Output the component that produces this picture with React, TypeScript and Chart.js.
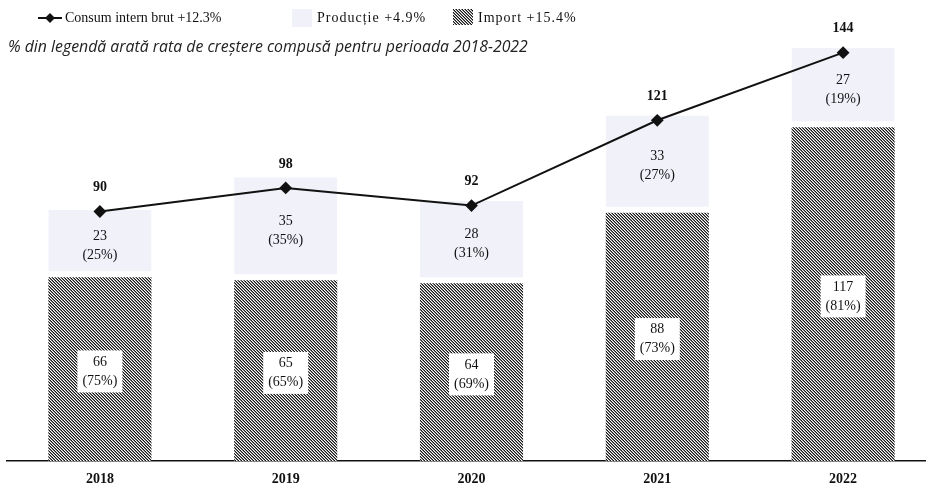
import React, { useEffect, useRef } from "react";
import { Chart, registerables } from "chart.js";

Chart.register(...registerables);

const years = ["2018", "2019", "2020", "2021", "2022"];
const importValues = [66, 65, 64, 88, 117];
const productionValues = [23, 35, 28, 33, 27];
const consumValues = [90, 98, 92, 121, 144];
const importShares = ["75%", "65%", "69%", "73%", "81%"];
const productionShares = ["25%", "35%", "31%", "27%", "19%"];
const legendLabels = ["Consum intern brut +12.3%", "Producție +4.9%", "Import +15.4%"];
const subtitleText = "% din legendă arată rata de creștere compusă pentru perioada 2018-2022";

const SERIF = '"Liberation Serif", "Times New Roman", serif';
const PROD_COLOR = "#f1f1fa";
const INK = "#111111";
const CANVAS_W = 945;
const CANVAS_H = 489;

function makeHatch(): CanvasPattern | string {
  const c = document.createElement("canvas");
  c.width = 3;
  c.height = 3;
  const g = c.getContext("2d");
  if (!g) return "#777";
  g.fillStyle = "#ffffff";
  g.fillRect(0, 0, 3, 3);
  for (let x = 0; x < 3; x++) {
    g.fillStyle = "#161616";
    g.fillRect(x, x, 1, 1);
    g.fillStyle = "#7e7e7e";
    g.fillRect(x, (x + 1) % 3, 1, 1);
  }
  return g.createPattern(c, "repeat") || "#777";
}

export default function App() {
  const ref = useRef<HTMLCanvasElement | null>(null);

  useEffect(() => {
    if (!ref.current) return;
    const hatch = makeHatch();

    const labelsPlugin = {
      id: "valueLabels",
      afterDatasetsDraw(chart: any) {
        const ctx = chart.ctx as CanvasRenderingContext2D;
        const imp = chart.getDatasetMeta(0);
        const prod = chart.getDatasetMeta(1);
        const line = chart.getDatasetMeta(2);
        ctx.save();
        ctx.textAlign = "center";
        ctx.textBaseline = "middle";
        years.forEach((_, i) => {
          const b: any = imp.data[i];
          const cy = (b.y + b.base) / 2 - 3;
          ctx.font = `14px ${SERIF}`;
          const t1 = String(importValues[i]);
          const t2 = `(${importShares[i]})`;
          const w = Math.max(ctx.measureText(t1).width, ctx.measureText(t2).width) + 10;
          ctx.fillStyle = "#ffffff";
          ctx.fillRect(b.x - w / 2, cy - 21, w, 42);
          ctx.fillStyle = INK;
          ctx.fillText(t1, b.x, cy - 9.5);
          ctx.fillText(t2, b.x, cy + 9.5);

          const p: any = prod.data[i];
          const py = (p.y + p.base) / 2 + 2;
          ctx.fillText(String(productionValues[i]), p.x, py - 9.5);
          ctx.fillText(`(${productionShares[i]})`, p.x, py + 9.5);

          const pt: any = line.data[i];
          ctx.font = `bold 14px ${SERIF}`;
          ctx.fillText(String(consumValues[i]), pt.x, pt.y - 24);
        });
        ctx.restore();
      },
    };

    const legendPlugin = {
      id: "topLegend",
      afterDraw(chart: any) {
        const ctx = chart.ctx as any;
        ctx.save();
        const ly = 18;
        ctx.strokeStyle = INK;
        ctx.lineWidth = 2;
        ctx.beginPath();
        ctx.moveTo(38, ly);
        ctx.lineTo(62, ly);
        ctx.stroke();
        ctx.fillStyle = INK;
        ctx.beginPath();
        ctx.moveTo(50, ly - 5);
        ctx.lineTo(55, ly);
        ctx.lineTo(50, ly + 5);
        ctx.lineTo(45, ly);
        ctx.closePath();
        ctx.fill();

        ctx.font = `14px ${SERIF}`;
        ctx.textAlign = "left";
        ctx.textBaseline = "middle";
        ctx.fillStyle = INK;
        ctx.fillText(legendLabels[0], 65, ly);

        ctx.letterSpacing = "1px";
        ctx.fillStyle = PROD_COLOR;
        ctx.fillRect(292, ly - 9, 20, 18);
        ctx.fillStyle = INK;
        ctx.fillText(legendLabels[1], 317, ly);

        ctx.fillStyle = hatch as any;
        ctx.fillRect(453, ly - 9, 20, 16);
        ctx.fillStyle = INK;
        ctx.fillText(legendLabels[2], 478, ly);
        ctx.letterSpacing = "0px";

        const fam = `"Open Sans", "Liberation Sans", sans-serif`;
        ctx.font = `italic 13px ${fam}`;
        const w = ctx.measureText(subtitleText).width;
        const size = Math.max(10, Math.min(16, (13 * 520) / w));
        ctx.font = `italic ${size.toFixed(2)}px ${fam}`;
        ctx.fillStyle = "#222";
        ctx.fillText(subtitleText, 8, 47);
        ctx.restore();
      },
    };

    const chart = new Chart(ref.current, {
      type: "bar",
      data: {
        labels: years,
        datasets: [
          {
            type: "bar",
            label: "Import",
            data: importValues,
            backgroundColor: hatch as any,
            borderWidth: 0,
            barPercentage: 1,
            categoryPercentage: 0.555,
            order: 1,
            yAxisID: "y",
          },
          {
            type: "bar",
            label: "Producție",
            data: productionValues,
            backgroundColor: PROD_COLOR,
            borderColor: "#ffffff",
            borderWidth: { top: 0, left: 0, right: 0, bottom: 6 },
            borderSkipped: false,
            barPercentage: 1,
            categoryPercentage: 0.555,
            order: 2,
            yAxisID: "y",
          },
          {
            type: "line",
            label: "Consum intern brut",
            data: consumValues,
            borderColor: INK,
            borderWidth: 2,
            pointStyle: "rectRot",
            pointRadius: 5,
            pointBackgroundColor: INK,
            pointBorderColor: INK,
            tension: 0,
            order: 0,
            yAxisID: "y2",
            clip: false as any,
          } as any,
        ],
      },
      options: {
        responsive: false,
        animation: false,
        layout: { padding: { top: 40, left: 6, right: 9, bottom: -9 } },
        plugins: {
          legend: { display: false },
          tooltip: { enabled: false },
          title: { display: false },
        },
        scales: {
          x: {
            stacked: true,
            offset: true,
            grid: { display: false, drawTicks: false },
            border: { display: true, color: INK, width: 1.5 },
            ticks: {
              color: INK,
              padding: 10,
              font: { family: SERIF, size: 14, weight: "bold" },
            },
          },
          y: {
            stacked: true,
            display: false,
            min: 3.5,
            max: 146.7,
          },
          y2: {
            display: false,
            min: 5.1,
            max: 148.3,
          },
        },
      },
      plugins: [labelsPlugin, legendPlugin],
    } as any);

    return () => chart.destroy();
  }, []);

  return (
    <div
      style={{
        position: "absolute",
        left: 0,
        top: 0,
        width: 926,
        height: 489,
        overflow: "hidden",
        background: "#fff",
      }}
    >
      <canvas ref={ref} width={CANVAS_W} height={CANVAS_H} style={{ display: "block" }} />
    </div>
  );
}
